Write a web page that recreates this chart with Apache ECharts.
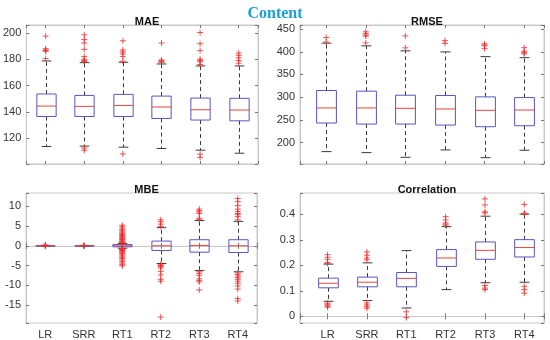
<!DOCTYPE html>
<html><head><meta charset="utf-8">
<script src="https://cdn.jsdelivr.net/npm/echarts@6/dist/echarts.min.js"></script>
<style>html,body{margin:0;padding:0;background:#fff}#c{width:550px;height:340px}</style>
</head><body><div id="c"></div>
<script>
// ---------- data ----------
const categories = ['LR', 'SRR', 'RT1', 'RT2', 'RT3', 'RT4'];

// [lower whisker, Q1, median, Q3, upper whisker]
const maeBox = [
  [113.7, 136.5, 144.4, 153.6, 178.7],
  [114.0, 136.5, 144.2, 152.5, 177.4],
  [113.2, 136.5, 144.9, 153.3, 177.7],
  [112.2, 135.0, 143.7, 152.0, 176.4],
  [110.9, 133.8, 141.6, 150.5, 174.9],
  [108.6, 133.2, 141.4, 150.3, 174.9]
];
const maeOut = [
  [197.5, 188, 187, 186.5, 186, 180.5],
  [198.5, 195, 192.3, 187.5, 182, 180, 179, 178.3, 112.5, 110.8],
  [194, 187, 185.5, 184, 182, 178.5, 108],
  [192.3, 179.5, 178.8, 178.2, 177.6],
  [200.3, 191.8, 186.5, 180, 179, 178, 176, 107.9, 105.4],
  [184.7, 183, 181, 179, 177]
];

const rmseBox = [
  [180.0, 243.0, 276.2, 314.6, 419.0],
  [177.8, 240.7, 276.2, 313.2, 413.0],
  [167.5, 240.7, 275.4, 304.3, 402.0],
  [183.7, 238.5, 274.0, 303.6, 399.7],
  [166.7, 234.8, 271.0, 300.6, 389.3],
  [183.0, 237.0, 271.7, 299.1, 387.0]
];
const rmseOut = [
  [431.5, 421.5],
  [444, 440, 436.5, 434.5, 419.5],
  [435, 408.6],
  [424.5, 418.5],
  [417.5, 415, 413, 407],
  [409, 401, 398, 395.5]
];

const mbeBox = [
  [-0.1, -0.03, 0, 0.03, 0.1],
  [-0.1, -0.03, 0, 0.03, 0.1],
  [-0.6, -0.26, 0, 0.3, 0.6],
  [-4.5, -1.19, 0, 1.19, 4.6],
  [-6.3, -1.62, 0.09, 1.54, 6.4],
  [-6.6, -1.7, 0, 1.54, 6.2]
];
const mbeOut = [
  [0.15, -0.15, 0.2],
  [0.12, -0.12],
  [5.2, 4.8, 4.5, 4.1, 3.8, 3.5, 3.2, 3.0, 2.8, 2.6, 2.4, 2.2, 2.0, 1.8, 1.6, 1.4, 1.2, 1.0, 0.9, 0.8, 0.7,
   -0.7, -0.8, -0.9, -1.0, -1.2, -1.4, -1.6, -1.8, -2.0, -2.3, -2.6, -2.9, -3.2, -3.6, -4.0, -4.4, -4.8, -5.1],
  [6.6, 6.1, 5.5, 4.9, -4.7, -5.0, -5.3, -5.6, -6.5, -7.4, -8.5, -9.0, -18.1],
  [9.3, 8.9, 8.6, 8.2, 7.0, 6.7, -6.6, -7.0, -7.5, -8.4, -8.8, -9.2, -11.2],
  [12.0, 11.2, 10.2, 9.3, 8.7, 8.2, 7.9, 7.4, 6.6, -6.9, -7.3, -7.7, -8.1, -8.5, -9.0, -9.5, -10.2, -11.0, -13.4, -14.0]
];

const corrBox = [
  [0.059, 0.112, 0.130, 0.150, 0.205],
  [0.062, 0.116, 0.134, 0.154, 0.210],
  [0.033, 0.116, 0.149, 0.172, 0.258],
  [0.105, 0.196, 0.229, 0.262, 0.352],
  [0.132, 0.224, 0.259, 0.292, 0.393],
  [0.134, 0.233, 0.270, 0.301, 0.401]
];
const corrOut = [
  [0.242, 0.232, 0.224, 0.212, 0.208, 0.052, 0.048, 0.044, 0.040, 0.036],
  [0.253, 0.240, 0.229, 0.222, 0.053, 0.045, 0.038, 0.032],
  [0.018, -0.005],
  [0.391, 0.378, 0.367, 0.362, 0.358],
  [0.461, 0.437, 0.410, 0.406, 0.121, 0.111, 0.105],
  [0.439, 0.405, 0.402, 0.118, 0.105, 0.091]
];

// axis ranges and tick steps
const maeTicks = { min: 100.4, max: 206, step: 20, split: 5 };
const rmseTicks = { min: 152.7, max: 459, step: 50, split: 6 };
const mbeTicks = { min: -19.6, max: 13.4, step: 5, split: 6 };
const corrTicks = { min: -0.026, max: 0.484, step: 0.1, split: 5 };

// ---------- layout ----------
const panels = [
  { title: 'MAE', box: maeBox, out: maeOut, ticks: maeTicks, xr: [0.5, 6.5], g: { left: 26, top: 25, width: 232, height: 139 }, xl: false },
  { title: 'RMSE', box: rmseBox, out: rmseOut, ticks: rmseTicks, xr: [0.34, 6.5], g: { left: 300, top: 25, width: 244, height: 139 }, xl: false },
  { title: 'MBE', box: mbeBox, out: mbeOut, ticks: mbeTicks, xr: [0.5, 6.5], g: { left: 26, top: 193, width: 231, height: 130 }, xl: true },
  { title: 'Correlation', box: corrBox, out: corrOut, ticks: corrTicks, xr: [0.3, 6.5], g: { left: 300, top: 193, width: 244, height: 130 }, xl: true }
];

const FONT = 'Liberation Sans';
const frameColor = '#c8c8c8';
const tickColor = '#777';

function onStep(v, step) {
  const r = v / step;
  return Math.abs(r - Math.round(r)) < 1e-6;
}

function renderBox(params, api) {
  const x = api.value(0);
  const lo = api.coord([x, api.value(1)]);
  const q1 = api.coord([x, api.value(2)]);
  const md = api.coord([x, api.value(3)]);
  const q3 = api.coord([x, api.value(4)]);
  const hi = api.coord([x, api.value(5)]);
  const unit = api.size([1, 0])[0];
  const bw = unit * 0.5, cw = unit * 0.25;
  const cx = Math.round(q1[0]) + 0.5;
  const dash = { stroke: '#3a3a3a', lineWidth: 1, lineDash: [4, 3], fill: null };
  const solid = { stroke: '#3a3a3a', lineWidth: 1, fill: null };
  return {
    type: 'group',
    children: [
      { type: 'line', shape: { x1: cx, y1: q3[1], x2: cx, y2: hi[1] }, style: dash },
      { type: 'line', shape: { x1: cx, y1: q1[1], x2: cx, y2: lo[1] }, style: dash },
      { type: 'line', shape: { x1: cx - cw / 2, y1: hi[1], x2: cx + cw / 2, y2: hi[1] }, style: solid },
      { type: 'line', shape: { x1: cx - cw / 2, y1: lo[1], x2: cx + cw / 2, y2: lo[1] }, style: solid },
      { type: 'rect', shape: { x: cx - bw / 2, y: q3[1], width: bw, height: Math.max(q1[1] - q3[1], 0.5) },
        style: { fill: null, stroke: '#5656c4', lineWidth: 1 } },
      { type: 'line', shape: { x1: cx - bw / 2, y1: md[1], x2: cx + bw / 2, y2: md[1] },
        style: { stroke: '#e8453c', lineWidth: 1, fill: null } }
    ]
  };
}

const option = {
  backgroundColor: '#fff',
  animation: false,
  title: [
    { text: 'Content', left: 'center', top: 1,
      textStyle: { fontFamily: 'Liberation Serif', fontWeight: 'bold', fontSize: 16, color: '#1ba0d8' } }
  ],
  grid: [], xAxis: [], yAxis: [], series: []
};

panels.forEach((p, i) => {
  option.title.push({
    text: p.title, left: p.g.left + p.g.width / 2, top: p.g.top - 14, textAlign: 'center',
    textStyle: { fontFamily: FONT, fontWeight: 'bold', fontSize: 11, color: '#111' }
  });
  option.grid.push(Object.assign({ show: true, borderColor: frameColor, borderWidth: 1, backgroundColor: '#fff' }, p.g));
  const xBase = {
    gridIndex: i, type: 'value', min: p.xr[0], max: p.xr[1], splitNumber: 6,
    splitLine: { show: false },
    axisLine: { show: true, lineStyle: { color: frameColor } },
    axisTick: { show: true, inside: true, length: 3, lineStyle: { color: tickColor } }
  };
  option.xAxis.push(Object.assign({}, xBase, {
    position: 'bottom',
    axisLabel: {
      show: p.xl, margin: 6, fontFamily: FONT, fontSize: 11, color: '#333', showMinLabel: true, showMaxLabel: true,
      formatter: v => onStep(v, 1) && v >= 1 && v <= categories.length ? categories[Math.round(v) - 1] : ''
    }
  }));
  option.xAxis.push(Object.assign({}, xBase, { position: 'top', axisLabel: { show: false } }));
  const yBase = {
    gridIndex: i, type: 'value', min: p.ticks.min, max: p.ticks.max, splitNumber: p.ticks.split,
    splitLine: { show: false },
    axisLine: { show: true, lineStyle: { color: frameColor } },
    axisTick: { show: true, inside: true, length: 3, lineStyle: { color: tickColor } }
  };
  option.yAxis.push(Object.assign({}, yBase, {
    position: 'left',
    axisLabel: {
      margin: 5, fontFamily: FONT, fontSize: 11, color: '#333', showMinLabel: true, showMaxLabel: true,
      formatter: v => onStep(v, p.ticks.step) ? String(Math.round(v * 10) / 10) : ''
    }
  }));
  option.yAxis.push(Object.assign({}, yBase, { position: 'right', axisLabel: { show: false } }));

  option.series.push({
    type: 'custom', xAxisIndex: 2 * i, yAxisIndex: 2 * i, renderItem: renderBox,
    encode: { x: 0, y: [1, 2, 3, 4, 5] }, clip: true, z: 2,
    data: p.box.map((b, k) => [k + 1].concat(b))
  });
  const pts = [];
  p.out.forEach((arr, k) => arr.forEach(v => pts.push([k + 1, v])));
  option.series.push({
    type: 'scatter', xAxisIndex: 2 * i, yAxisIndex: 2 * i, z: 3,
    symbol: 'path://M0,5L10,5M5,0L5,10', symbolSize: 6,
    itemStyle: { color: 'rgba(0,0,0,0)', borderColor: '#f02a2a', borderWidth: 1 },
    data: pts
  });
});

const chart = echarts.init(document.getElementById('c'));
chart.setOption(option);
</script>
</body></html>
